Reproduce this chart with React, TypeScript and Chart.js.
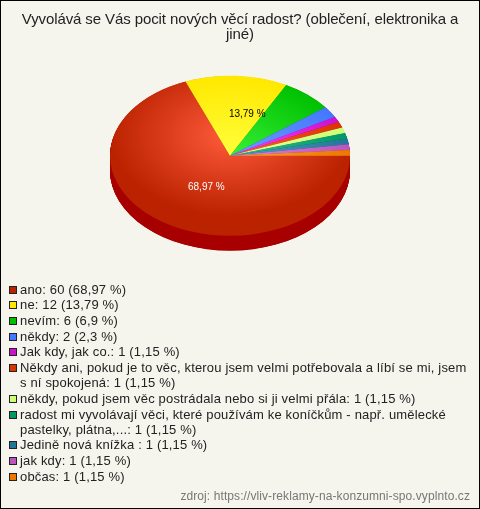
import React, { useEffect, useRef } from "react";
import { Chart, registerables } from "chart.js";

Chart.register(...registerables);

const titleLines = ["Vyvolává se Vás pocit nových věcí radost? (oblečení, elektronika a", "jiné)"];
const sourceText = "zdroj: https://vliv-reklamy-na-konzumni-spo.vyplnto.cz";
const categories = [
  "ano",
  "ne",
  "nevím",
  "někdy",
  "Jak kdy, jak co.",
  "Někdy ani, pokud je to věc, kterou jsem velmi potřebovala a líbí se mi, jsem s ní spokojená",
  "někdy, pokud jsem věc postrádala nebo si ji velmi přála",
  "radost mi vyvolávají věci, které používám ke koníčkům - např. umělecké pastelky, plátna,...",
  "Jedině nová knížka ",
  "jak kdy",
  "občas",
];
const legendLines = [
  ["ano: 60 (68,97 %)"],
  ["ne: 12 (13,79 %)"],
  ["nevím: 6 (6,9 %)"],
  ["někdy: 2 (2,3 %)"],
  ["Jak kdy, jak co.: 1 (1,15 %)"],
  ["Někdy ani, pokud je to věc, kterou jsem velmi potřebovala a líbí se mi, jsem", "s ní spokojená: 1 (1,15 %)"],
  ["někdy, pokud jsem věc postrádala nebo si ji velmi přála: 1 (1,15 %)"],
  ["radost mi vyvolávají věci, které používám ke koníčkům - např. umělecké", "pastelky, plátna,...: 1 (1,15 %)"],
  ["Jedině nová knížka : 1 (1,15 %)"],
  ["jak kdy: 1 (1,15 %)"],
  ["občas: 1 (1,15 %)"],
];
const values = [60, 12, 6, 2, 1, 1, 1, 1, 1, 1, 1];
const edgeColors = ["#bb2200", "#ffe800", "#00c000", "#4477ff", "#cc11cc", "#dd3300", "#ccff77", "#009966", "#227799", "#bb55bb", "#ee7700"];
const centerColors = ["#ff5b3b", "#ffff3c", "#38f038", "#6c9cff", "#ff40ff", "#ff6030", "#e8ff99", "#30c090", "#50a0c0", "#e080e0", "#ffa030"];
const sideColors = ["#a80000", "#c0a800", "#008800", "#2244bb", "#880088", "#a02000", "#90b050", "#006644", "#115566", "#883388", "#aa5500"];
const sliceLabels = ["68,97 %", "13,79 %"];
const sliceLabelColors = ["#ffffff", "#000000"];
const sliceLabelShift = [[10, -2], [14, -2]];

const FONT = "'Liberation Sans', Arial, sans-serif";
const PIE_X = 230;
const PIE_Y = 155.7;
const SQUASH = 2 / 3;
const DEPTH = 15;

const placePie = (chart: any, ctx: CanvasRenderingContext2D) => {
  const arc = chart.getDatasetMeta(0).data[0];
  ctx.translate(PIE_X, PIE_Y);
  ctx.scale(1, SQUASH);
  ctx.translate(-arc.x, -arc.y);
};

const piePlugin = {
  id: "tiltedPie",
  beforeDraw(chart: any) {
    chart.ctx.letterSpacing = "-0.1px";
  },
  beforeDatasetsDraw(chart: any) {
    const ctx = chart.ctx;
    ctx.letterSpacing = "0px";
    const arcs = chart.getDatasetMeta(0).data;
    ctx.save();
    placePie(chart, ctx);
    for (let d = DEPTH / SQUASH; d > 0; d -= 0.5) {
      arcs.forEach((a: any, i: number) => {
        ctx.beginPath();
        ctx.moveTo(a.x, a.y + d);
        ctx.arc(a.x, a.y + d, a.outerRadius, a.startAngle, a.endAngle);
        ctx.closePath();
        ctx.fillStyle = sideColors[i];
        ctx.fill();
      });
    }
  },
  afterDatasetsDraw(chart: any) {
    const ctx = chart.ctx;
    ctx.restore();
    const arcs = chart.getDatasetMeta(0).data;
    ctx.save();
    ctx.font = `10px ${FONT}`;
    ctx.textAlign = "center";
    ctx.textBaseline = "middle";
    sliceLabels.forEach((text, i) => {
      const a = arcs[i];
      const mid = (a.startAngle + a.endAngle) / 2;
      const x = PIE_X + Math.cos(mid) * a.outerRadius * 0.5 + sliceLabelShift[i][0];
      const y = PIE_Y + Math.sin(mid) * a.outerRadius * 0.5 * SQUASH + sliceLabelShift[i][1];
      ctx.fillStyle = sliceLabelColors[i];
      ctx.fillText(text, x, y);
    });
    ctx.restore();

    ctx.save();
    ctx.letterSpacing = "0.17px";
    ctx.font = `13px ${FONT}`;
    ctx.textAlign = "left";
    ctx.textBaseline = "middle";
    let y = 289.7;
    legendLines.forEach((lines, i) => {
      ctx.fillStyle = edgeColors[i];
      ctx.fillRect(9.5, Math.round(y) - 3.5, 7, 7);
      ctx.strokeStyle = "#222222";
      ctx.lineWidth = 1;
      ctx.strokeRect(9.5, Math.round(y) - 3.5, 7, 7);
      ctx.fillStyle = "#222222";
      lines.forEach((line, j) => ctx.fillText(line, 20, Math.round(y + j * 15)));
      y += 15.7 + (lines.length - 1) * 15;
    });
    ctx.letterSpacing = "0.09px";
    ctx.font = `12px ${FONT}`;
    ctx.textAlign = "right";
    ctx.fillStyle = "#777777";
    ctx.fillText(sourceText, 470, 497);
    ctx.restore();
  },
};

export default function App() {
  const ref = useRef<HTMLCanvasElement>(null);
  useEffect(() => {
    document.body.style.margin = "0";
    const radial = (c: any, i: number) => {
      const arc = c.chart.getDatasetMeta(0).data[0];
      const x = arc?.x ?? 240;
      const y = arc?.y ?? 250;
      const g = c.chart.ctx.createRadialGradient(x, y, 0, x, y, 120);
      g.addColorStop(0, centerColors[i]);
      g.addColorStop(1, edgeColors[i]);
      return g;
    };
    const chart = new Chart(ref.current as HTMLCanvasElement, {
      type: "pie",
      data: {
        labels: categories,
        datasets: [
          {
            data: values,
            backgroundColor: (c: any) => radial(c, c.dataIndex),
            borderWidth: 0,
          },
        ],
      },
      options: {
        animation: false,
        responsive: false,
        rotation: 90,
        radius: 120,
        layout: { padding: 0 },
        plugins: {
          legend: { display: false },
          tooltip: { enabled: false },
          title: {
            display: true,
            text: titleLines,
            color: "#222222",
            font: { family: FONT, size: 15, weight: "normal", lineHeight: 1 },
            padding: { top: 12, bottom: 10 },
          },
        },
      },
      plugins: [piePlugin],
    } as any);
    return () => chart.destroy();
  }, []);
  return (
    <canvas
      ref={ref}
      width={480}
      height={509}
      style={{ display: "block", width: 480, height: 509, background: "#f5f5ee", outline: "1px solid #000", outlineOffset: -1 }}
    />
  );
}
